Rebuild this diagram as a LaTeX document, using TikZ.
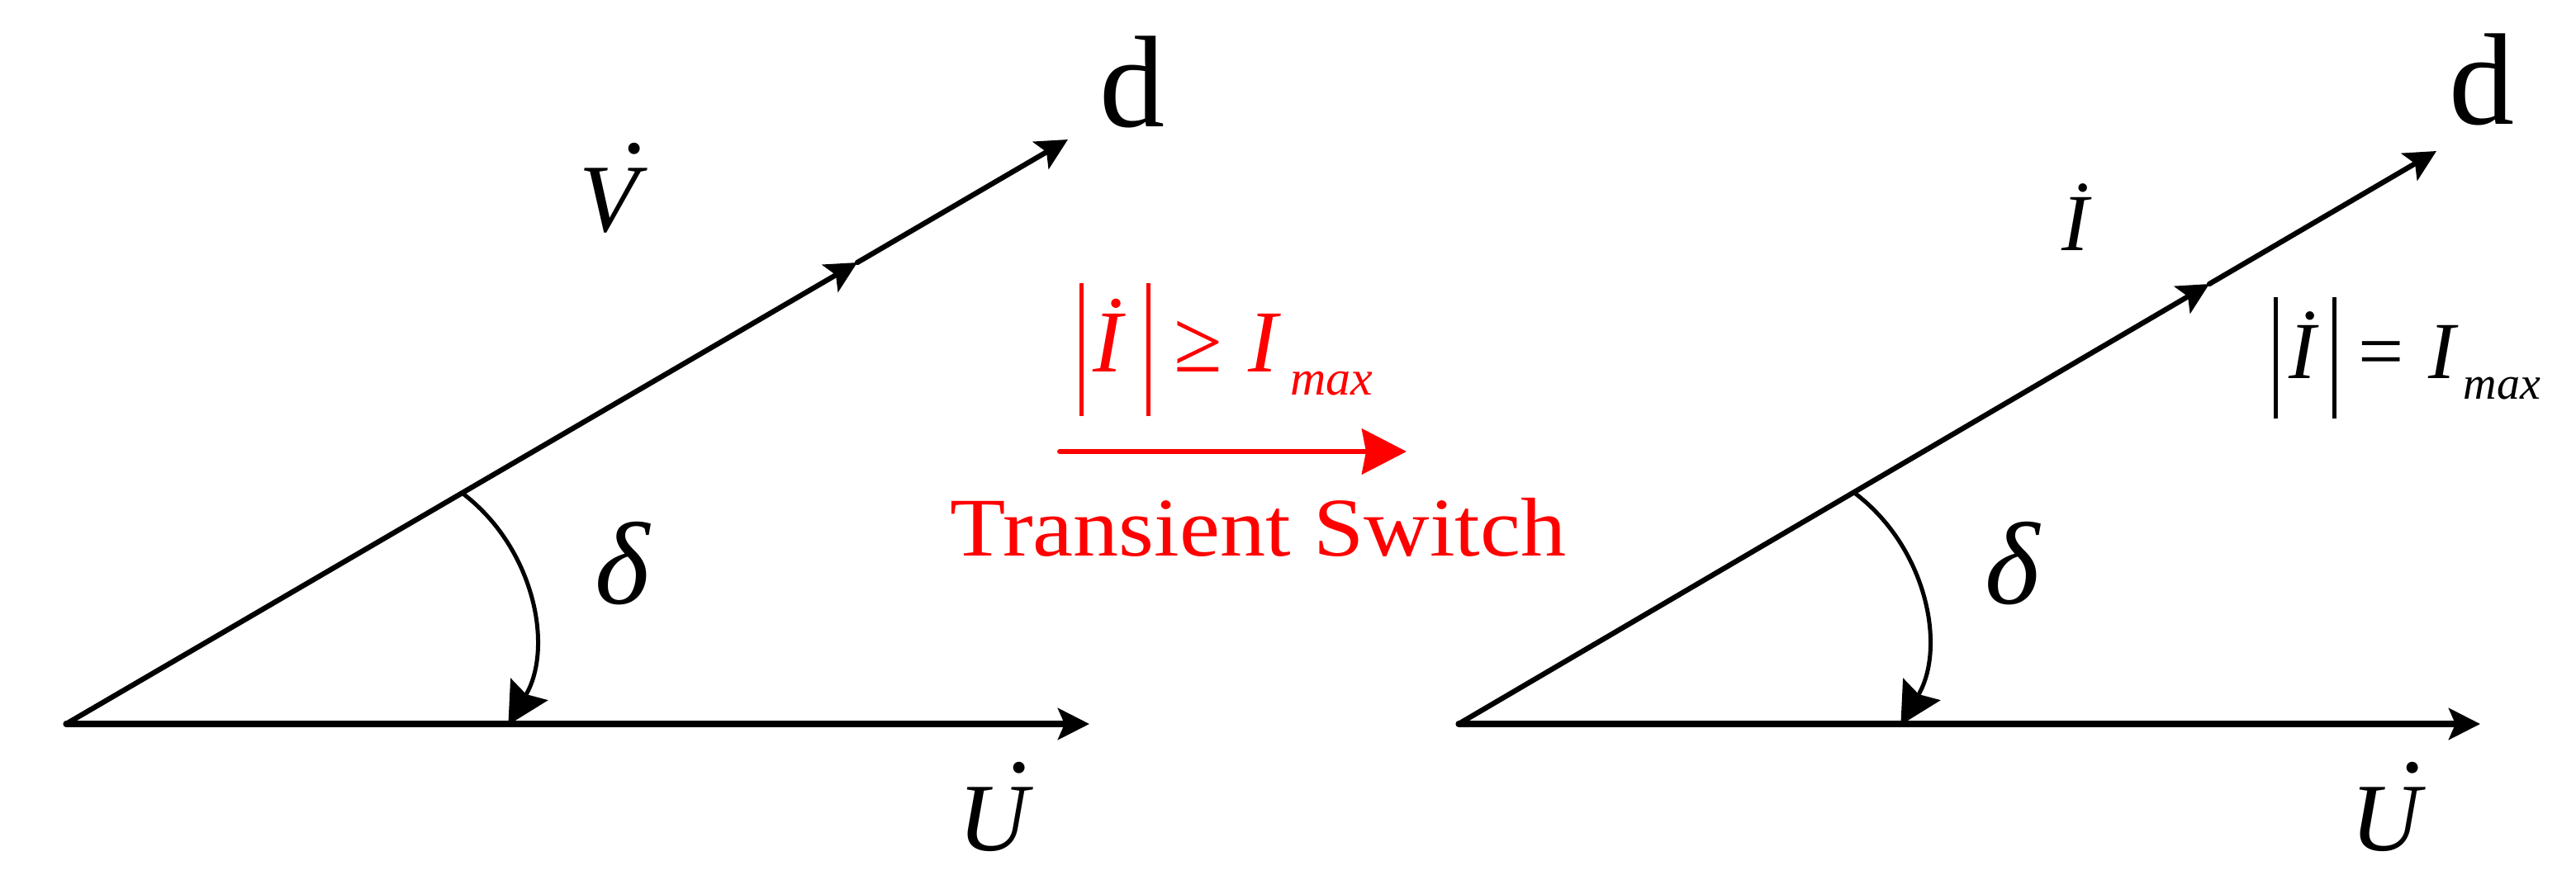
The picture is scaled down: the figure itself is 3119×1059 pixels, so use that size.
\documentclass[tikz,border=0pt]{standalone}
\usepackage{fontspec}
\setmainfont{Liberation Serif}
\usetikzlibrary{arrows.meta}
\newcommand\dotacc[1]{\leavevmode\setbox0\hbox{#1}\rlap{\hbox to\wd0{\hss\kern0.54em\raisebox{\dimexpr\ht0+0.155em\relax}{\upshape.}\hss}}\box0}
\begin{document}
\begin{tikzpicture}[x=0.01cm,y=0.01cm,
  horiz/.style={line width=0.072cm, line cap=round, -{Stealth[length=0.38cm,width=0.38cm,inset=0.08cm]}},
  diag/.style={line width=0.063cm, line cap=round, -{Stealth[length=0.38cm,width=0.38cm,inset=0.08cm]}},
  angarc/.style={line width=0.05cm, -{Stealth[length=0.5cm,width=0.52cm,inset=0.07cm]}},
  redarrow/.style={red, line width=0.06cm, line cap=round, -{Stealth[length=0.54cm,width=0.55cm,inset=0.05cm]}},
  lbl/.style={inner sep=0pt, anchor=base},
  vlab/.style={lbl, font=\fontsize{33.29pt}{35pt}\selectfont\itshape},
  dlab/.style={lbl, font=\fontsize{44.96pt}{46pt}\selectfont},
  deltalab/.style={lbl, font=\fontsize{40.4pt}{42pt}\selectfont\itshape},
]
\useasboundingbox (0,0) rectangle (3119,1059);
% ---------- left diagram ----------
\coordinate (O1) at (80,182);
\coordinate (U1) at (1319,182);
\coordinate (D1) at (1293,890);
\coordinate (M1) at (1038,741);
\coordinate (C1) at (430,290);
\draw[horiz] (O1) -- (U1);
\draw[diag] (O1) -- (M1);
\draw[diag] (M1) -- (D1);
\draw[angarc] ([shift={(53:2.15cm)}]C1) arc[start angle=53, end angle=-30.5, radius=2.15cm];
\node[vlab] (v1) at (737,779) {\dotacc{V}};
\node[vlab] (u1) at (1203,29) {\dotacc{U}};
\node[dlab] (d1) at (1371,906) {d};
\node[deltalab] (del1) at (754,328) {δ};
% ---------- transition ----------
\coordinate (R1) at (1283,512);
\coordinate (R2) at (1703,512);
\draw[redarrow] (R1) -- (R2);
\node[lbl, anchor=base west, red, font=\fontsize{30.44pt}{32pt}\selectfont] (f1) at (1306,609)
  {\rule[-0.5em]{0.05cm}{1.5em}\hspace{0.12cm}\textit{İ}\hspace{0.244cm}\rule[-0.5em]{0.05cm}{1.5em}\hspace{0.29cm}≥\hspace{0.31cm}\textit{I}\hspace{0.104cm}\raisebox{-0.28cm}{\fontsize{17.07pt}{18pt}\selectfont\textit{max}}};
\node[lbl, red, xscale=1.09, font=\fontsize{28.74pt}{30pt}\selectfont] (ts) at (1523.5,386) {Transient Switch};
% ---------- right diagram ----------
\coordinate (O2) at (1766,182);
\coordinate (U2) at (3003,182);
\coordinate (D2) at (2950,876);
\coordinate (M2) at (2675,715);
\coordinate (C2) at (2116,290);
\draw[horiz] (O2) -- (U2);
\draw[diag] (O2) -- (M2);
\draw[diag] (M2) -- (D2);
\draw[angarc] ([shift={(53:2.15cm)}]C2) arc[start angle=53, end angle=-30.5, radius=2.15cm];
\node[lbl, font=\fontsize{27.88pt}{29pt}\selectfont\itshape] (i2) at (2513,756) {İ};
\node[vlab] (u2) at (2889,29) {\dotacc{U}};
\node[dlab] (d2) at (3005,909) {d};
\node[deltalab] (del2) at (2436,328) {δ};
\node[lbl, anchor=base west, font=\fontsize{27.88pt}{29pt}\selectfont] (f2) at (2752,601)
  {\rule[-0.5em]{0.05cm}{1.5em}\hspace{0.14cm}\textit{İ}\hspace{0.16cm}\rule[-0.5em]{0.05cm}{1.5em}\hspace{0.26cm}=\hspace{0.30cm}\textit{I}\hspace{0.055cm}\raisebox{-0.25cm}{\fontsize{15.93pt}{17pt}\selectfont\textit{max}}};
\end{tikzpicture}
\end{document}
